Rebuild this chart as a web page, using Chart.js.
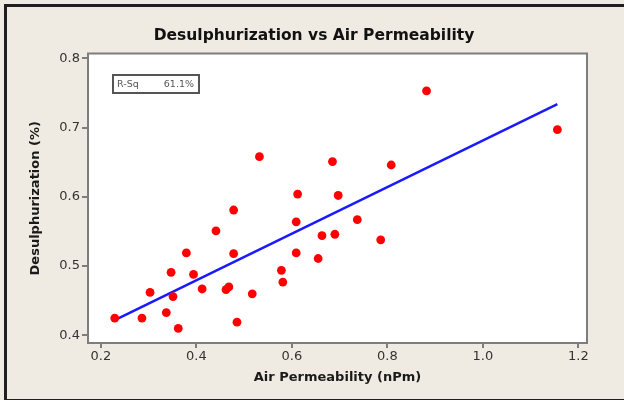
<!DOCTYPE html>
<html>
<head>
<meta charset="utf-8">
<script src="https://cdn.jsdelivr.net/npm/chart.js@4"></script>
<style>
    html, body { margin: 0; padding: 0; background: #efebe2; }
    #wrap { position: relative; width: 624px; height: 400px; }
    #frame {
        position: absolute; left: 4px; top: 4px; width: 640px; height: 392px;
        border: 3px solid #1f1f1f; pointer-events: none;
    }
</style>
</head>
<body>
<div id="wrap">
    <canvas id="scatterChart" width="624" height="400"></canvas>
    <div id="frame"></div>
</div>
<script>
// values
const permeability = [0.229, 0.286, 0.337, 0.362, 0.303, 0.351, 0.347, 0.379, 0.394, 0.412,
    0.441, 0.462, 0.468, 0.478, 0.478, 0.485, 0.517, 0.532, 0.578, 0.581,
    0.609, 0.609, 0.612, 0.655, 0.663, 0.685, 0.690, 0.697, 0.737, 0.786,
    0.808, 0.882, 1.156];
const desulphurization = [0.425, 0.425, 0.433, 0.410, 0.462, 0.456, 0.491, 0.519, 0.488, 0.467,
    0.551, 0.466, 0.470, 0.581, 0.518, 0.419, 0.460, 0.658, 0.494, 0.477,
    0.519, 0.564, 0.604, 0.511, 0.544, 0.651, 0.546, 0.602, 0.567, 0.538,
    0.646, 0.753, 0.697];
// fitted line ends
const fitX = [0.229, 1.156];
const fitY = [0.422, 0.734];
const xTicks = [0.2, 0.4, 0.6, 0.8, 1.0, 1.2];
const yTicks = [0.4, 0.5, 0.6, 0.7, 0.8];
const rSqLabel = 'R-Sq';
const rSqValue = '61.1%';

const FONT = 'DejaVu Sans';

const plotFrame = {
    id: 'plotFrame',
    beforeDatasetsDraw(chart) {
        const { ctx, chartArea: a } = chart;
        ctx.save();
        ctx.fillStyle = '#ffffff';
        ctx.fillRect(a.left, a.top, a.right - a.left, a.bottom - a.top);
        ctx.restore();
    },
    afterDatasetsDraw(chart) {
        const { ctx, chartArea: a } = chart;
        ctx.save();
        ctx.strokeStyle = '#7d7d7d';
        ctx.lineWidth = 2;
        ctx.strokeRect(a.left, a.top, a.right - a.left, a.bottom - a.top);

        // R-Sq box
        ctx.strokeStyle = '#555555';
        ctx.lineWidth = 2;
        ctx.strokeRect(113, 75, 86, 18);
        ctx.fillStyle = '#555555';
        ctx.font = '9.5px "' + FONT + '"';
        ctx.textBaseline = 'middle';
        ctx.textAlign = 'left';
        ctx.fillText(rSqLabel, 117, 84.5);
        ctx.textAlign = 'right';
        ctx.fillText(rSqValue, 194, 84.5);
        ctx.restore();
    }
};

const ctx = document.getElementById('scatterChart');
new Chart(ctx, {
    type: 'scatter',
    data: {
        datasets: [
            {
                data: permeability.map((x, i) => ({ x: x, y: desulphurization[i] })),
                backgroundColor: '#ff0000',
                borderWidth: 0,
                pointRadius: 4.4
            },
            {
                type: 'line',
                data: fitX.map((x, i) => ({ x: x, y: fitY[i] })),
                borderColor: '#1a1aff',
                borderWidth: 2.5,
                pointRadius: 0,
                fill: false
            }
        ]
    },
    options: {
        responsive: false,
        animation: false,
        // left padding also centres the title where the reference has it
        layout: { padding: { left: 41, right: 37, top: 0, bottom: 0 } },
        plugins: {
            legend: { display: false },
            tooltip: { enabled: false },
            title: {
                display: true,
                text: 'Desulphurization vs Air Permeability',
                color: '#111111',
                font: { family: FONT, size: 15.5, weight: 'bold' },
                padding: { top: 26.7, bottom: 8.2 }
            }
        },
        scales: {
            x: {
                type: 'linear',
                min: 0.173,
                max: 1.218,
                afterFit: s => { s.height = 57; },
                afterBuildTicks: s => { s.ticks = xTicks.map(v => ({ value: v })); },
                ticks: {
                    color: '#333333',
                    font: { family: FONT, size: 13 },
                    padding: 1,
                    maxRotation: 0,
                    callback: v => v.toFixed(1)
                },
                grid: { drawOnChartArea: false, drawTicks: true, tickLength: 5, color: '#7d7d7d', lineWidth: 2 },
                border: { display: false },
                title: {
                    display: true,
                    text: 'Air Permeability (nPm)',
                    color: '#1a1a1a',
                    font: { family: FONT, size: 13, weight: 'bold' },
                    padding: { top: 0, bottom: 15 }
                }
            },
            y: {
                type: 'linear',
                min: 0.389,
                max: 0.807,
                afterFit: s => { s.width = 47; },
                afterBuildTicks: s => { s.ticks = yTicks.map(v => ({ value: v })); },
                ticks: {
                    color: '#333333',
                    font: { family: FONT, size: 13 },
                    padding: 2,
                    callback: v => v.toFixed(1)
                },
                grid: { drawOnChartArea: false, drawTicks: true, tickLength: 6, color: '#7d7d7d', lineWidth: 2 },
                border: { display: false },
                title: {
                    display: true,
                    text: 'Desulphurization (%)',
                    color: '#1a1a1a',
                    font: { family: FONT, size: 13, weight: 'bold' },
                    padding: { top: -13, bottom: 0 }
                }
            }
        }
    },
    plugins: [plotFrame]
});
</script>
</body>
</html>
